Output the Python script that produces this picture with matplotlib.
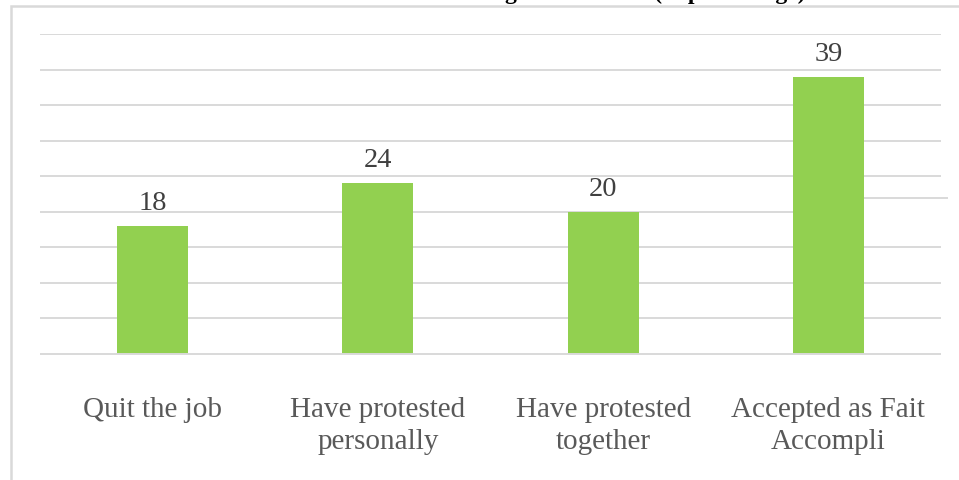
import matplotlib.pyplot as plt
from matplotlib.patches import Rectangle

categories = ['Quit the job', 'Have protested\npersonally',
              'Have protested\ntogether', 'Accepted as Fait\nAccompli']
values = [18, 24, 20, 39]
grid_levels = [5, 10, 15, 20, 25, 30, 35, 40, 45]

bar_color = '#92d050'
grid_color = '#d9d9d9'
serif = ['Liberation Serif', 'DejaVu Serif']

fig = plt.figure(figsize=(9.59, 4.81), dpi=100)
ax = fig.add_axes([40 / 959, 1 - 355 / 481, 901 / 959, 320 / 481])

# chart border (only the top and left edges fall inside the canvas)
fig.patches.append(Rectangle((10.5 / 959, -0.2), 1.2, 1.2 - 6.5 / 481,
                             transform=fig.transFigure, fill=False,
                             edgecolor=grid_color, linewidth=1.8))

# title sits above the canvas, only its descenders show
fig.text(805 / 959, 1 + 0.5 / 481, 'Reaction of Workers to Changes in Salaries (in percentage)',
         ha='right', va='baseline', fontsize=17, fontweight='bold',
         family=serif, color='#000000')

x = range(len(categories))
ax.set_xlim(-0.5, 3.5)
ax.set_ylim(0, 45)

bw = 71 / 225.25
for lv in grid_levels:
    if lv == 20:
        ax.hlines(lv, -0.5, 3 - bw / 2, color=grid_color, linewidth=1.4, zorder=0)
        # shifted segment to the right of the last bar
        ax.hlines(22, 3 + bw / 2, 3.5 + 7 / 225.25, color=grid_color,
                  linewidth=1.4, zorder=0, clip_on=False)
    else:
        ax.hlines(lv, -0.5, 3.5, color=grid_color, linewidth=1.4, zorder=0)
ax.hlines(0, -0.5, 3.5, color=grid_color, linewidth=1.4, zorder=3, clip_on=False)

bars = ax.bar(x, values, width=bw, color=bar_color, zorder=2)
for rect, v in zip(bars, values):
    ax.annotate(str(v), (rect.get_x() + rect.get_width() / 2, v),
                xytext=(0, 8), textcoords='offset points', ha='center', va='bottom',
                fontsize=20.5, family=serif, color='#404040')

ax.set_xticks(list(x))
ax.set_xticklabels(categories, fontsize=21, family=serif, color='#595959',
                   linespacing=1.3)
ax.tick_params(axis='x', length=0, pad=30)
ax.set_yticks([])
for s in ax.spines.values():
    s.set_visible(False)

fig.savefig('out.png', dpi=100)
